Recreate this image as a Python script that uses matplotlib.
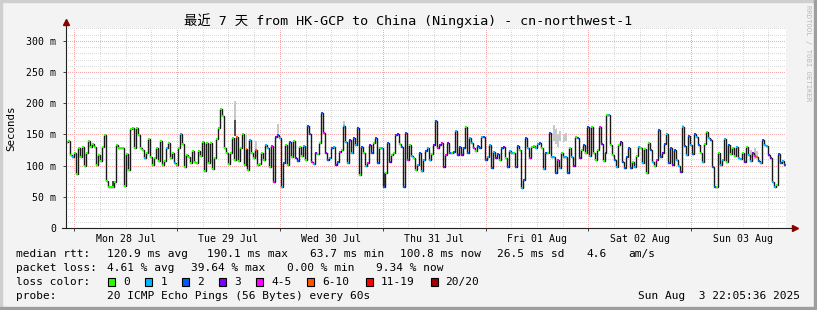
import numpy as np
import pandas as pd
import matplotlib
matplotlib.use('Agg')
import matplotlib.pyplot as plt
import matplotlib.dates as mdates
from matplotlib.patches import Rectangle
from matplotlib.ticker import MultipleLocator, FuncFormatter, NullFormatter

# median rtt in ms, one value per step from left to right
rtt_a = [138, 140, 117, 114, 120, 86, 128, 114, 130, 100,
         120, 140, 130, 134, 130, 101, 117, 108, 130, 149,
         75, 66, 66, 66, 74, 133, 129, 129, 129, 68,
         118, 93, 158, 161, 128, 161, 149, 128, 125, 112,
         120, 143, 114, 101, 113, 128, 107, 139, 101, 107,
         128, 137, 113, 120, 104, 101, 128, 150, 134, 98,
         117, 114]
rtt_b = [104, 123, 106, 104, 123, 116, 138, 91, 136, 104,
         136, 95, 113, 142, 161, 191, 180, 129, 120, 103,
         121, 144, 109, 146, 107, 129, 150, 101, 127, 93,
         141, 120, 113, 125, 101, 102, 120, 109, 133, 129,
         98, 132, 74, 146, 149, 145, 66, 104, 133, 101,
         138, 114, 139, 113, 107, 130, 116, 132, 109, 164]
rtt_c = [150, 106, 102, 121, 118, 136, 184, 152, 121, 109,
         113, 129, 130, 101, 106, 122, 125, 164, 138, 104,
         141, 120, 145, 133, 160, 85, 130, 120, 100, 104,
         133, 120, 136, 144, 104, 129, 128, 66, 88, 136,
         106, 117, 121, 149, 150, 134, 130, 65, 152, 109,
         133, 116, 112, 93, 101, 120, 91, 109, 123, 129]
rtt_d = [109, 118, 133, 171, 128, 133, 136, 98, 117, 136,
         121, 120, 122, 155, 117, 130, 117, 129, 162, 120,
         145, 136, 129, 123, 132, 129, 146, 146, 109, 114,
         133, 96, 122, 113, 118, 109, 128, 130, 112, 98,
         123, 121, 120, 98, 132, 125, 64, 77, 145, 128,
         112, 130, 132, 129, 134, 136, 128, 95, 120, 120]
rtt_e = [152, 114, 114, 89, 109, 96, 120, 114, 114, 89,
         129, 114, 100, 146, 145, 112, 125, 133, 120, 162,
         116, 162, 120, 109, 125, 162, 134, 107, 120, 181,
         181, 133, 117, 109, 98, 133, 138, 106, 96, 114,
         129, 96, 106, 98, 116, 130, 128, 104, 127, 89,
         137, 125, 106, 100, 109, 157, 114, 120, 134, 150]
rtt_f = [104, 129, 101, 125, 109, 100, 90, 162, 132, 117,
         148, 133, 118, 150, 146, 133, 120, 106, 134, 154,
         144, 141, 98, 66, 66, 120, 101, 109, 143, 106,
         133, 118, 128, 116, 130, 112, 110, 120, 106, 130,
         117, 107, 120, 116, 114, 107, 104, 141, 133, 132,
         117, 113, 74, 66, 69, 118, 104, 107, 101]

# lost pings (of 20) per step
loss_a = [0, 0, 0, 1, 0, 0, 0, 0, 0, 0,
          0, 0, 0, 0, 0, 0, 0, 0, 0, 0,
          0, 0, 0, 0, 0, 0, 0, 0, 0, 0,
          0, 0, 0, 0, 0, 0, 0, 0, 0, 1,
          0, 0, 0, 0, 0, 0, 0, 0, 0, 0,
          1, 0, 0, 0, 1, 0, 0, 1, 0, 0,
          0, 0]
loss_b = [0, 0, 0, 0, 0, 0, 0, 0, 0, 0,
          0, 0, 0, 0, 0, 0, 0, 0, 0, 0,
          0, 0, 0, 6, 0, 0, 0, 0, 6, 0,
          1, 0, 0, 6, 0, 0, 0, 0, 1, 1,
          0, 4, 4, 3, 2, 1, 1, 2, 0, 0,
          2, 0, 0, 3, 2, 0, 0, 1, 0, 2]
loss_c = [2, 4, 1, 3, 0, 0, 2, 4, 3, 2,
          1, 2, 1, 3, 2, 4, 0, 1, 1, 1,
          3, 1, 2, 1, 2, 0, 2, 0, 1, 4,
          3, 2, 0, 2, 2, 0, 1, 2, 0, 2,
          3, 0, 0, 2, 3, 0, 2, 2, 2, 4,
          0, 1, 0, 0, 1, 2, 1, 1, 2, 1]
loss_d = [1, 0, 3, 2, 4, 3, 4, 3, 4, 3,
          2, 0, 2, 1, 3, 2, 3, 2, 0, 2,
          1, 1, 4, 0, 2, 2, 1, 2, 2, 1,
          1, 2, 1, 3, 2, 0, 2, 3, 0, 2,
          1, 1, 0, 2, 2, 0, 1, 2, 2, 1,
          4, 0, 0, 1, 1, 2, 0, 1, 2, 0]
loss_e = [2, 1, 1, 2, 4, 1, 0, 1, 1, 2,
          0, 1, 3, 0, 2, 3, 0, 2, 0, 2,
          1, 0, 0, 0, 0, 4, 3, 0, 3, 0,
          1, 0, 0, 2, 1, 0, 3, 2, 2, 2,
          2, 2, 0, 1, 0, 1, 0, 1, 0, 0,
          0, 2, 1, 0, 4, 2, 2, 3, 2, 1]
loss_f = [2, 2, 3, 2, 1, 1, 3, 1, 2, 1,
          2, 1, 2, 2, 1, 2, 0, 1, 0, 0,
          1, 2, 2, 2, 0, 0, 1, 1, 1, 0,
          2, 0, 0, 0, 1, 1, 1, 0, 3, 0,
          1, 1, 3, 4, 6, 2, 1, 2, 1, 1,
          3, 3, 1, 1, 0, 2, 2, 1, 2]

# the few visible bits of "smoke" (rtt spread): step index, low, high, dark?
smoke_idx = [23, 84, 84, 90, 95, 106, 139, 159, 244, 245, 246, 247, 249, 250, 309, 343, 345, 346]
smoke_lo = [66, 147, 173, 128, 114, 149, 160, 66, 140, 135, 130, 140, 138, 140, 160, 112, 110, 115]
smoke_hi = [76, 173, 203, 152, 140, 167, 172, 88, 165, 158, 150, 155, 150, 152, 166, 125, 128, 124]
smoke_dark = [1, 1, 0, 0, 0, 0, 0, 1, 0, 0, 0, 0, 0, 0, 0, 0, 0, 0]

loss_labels = ['0', '1', '2', '3', '4-5', '6-10', '11-19', '20/20']
loss_limits = [0, 1, 2, 3, 5, 10, 19, 20]
loss_colors = ['#26ff00', '#00b8ff', '#0059ff', '#7e00ff', '#ff00ff', '#ff5500', '#ff0000', '#a10000']

end_time = pd.Timestamp('2025-08-03 22:05:36')

rtt = np.array(rtt_a + rtt_b + rtt_c + rtt_d + rtt_e + rtt_f, dtype=float)
loss = np.array(loss_a + loss_b + loss_c + loss_d + loss_e + loss_f)
n = len(rtt)
edges = pd.date_range(end_time - pd.Timedelta(days=7), end_time, periods=n + 1)
t = mdates.date2num(edges.to_pydatetime())

W, H = 817, 310
MONO = 'DejaVu Sans Mono'
fig = plt.figure(figsize=(W / 100, H / 100), dpi=100, facecolor='#f3f3f3')
ax = fig.add_axes([66 / W, 1 - 228 / H, 720 / W, 200 / H])
ax.set_facecolor('white')

# smoke
for i, lo, hi, dk in zip(smoke_idx, smoke_lo, smoke_hi, smoke_dark):
    ax.bar(t[i], hi - lo, bottom=lo, width=t[i + 1] - t[i], align='edge',
           color='#505050' if dk else '#c8c8c8', lw=0, zorder=2)

# median line + loss colours
ax.stairs(rtt, t, baseline=None, color='#1a1a1a', lw=1.0, zorder=3)
cols = [loss_colors[np.searchsorted(loss_limits, v)] for v in loss]
ax.hlines(rtt, t[:-1], t[1:], colors=cols, lw=1.45, zorder=4, capstyle='butt')

ax.set_xlim(t[0], t[-1])
ax.set_ylim(0, 320.8)

ax.yaxis.set_major_locator(MultipleLocator(50))
ax.yaxis.set_minor_locator(MultipleLocator(10))
ax.yaxis.set_major_formatter(FuncFormatter(lambda v, p: '0' if v == 0 else f'{v:.0f} m'))
ax.xaxis.set_major_locator(mdates.DayLocator())
ax.xaxis.set_minor_locator(mdates.HourLocator(byhour=[6, 12, 18]))
ax.xaxis.set_major_formatter(NullFormatter())


def day_label(v, p):
    d = mdates.num2date(v)
    return d.strftime('%a %d %b') if d.hour == 12 else ''


ax.xaxis.set_minor_formatter(FuncFormatter(day_label))
ax.set_axisbelow(True)
ax.grid(which='minor', color='#dadada', ls=(0, (1, 1.4)), lw=0.72, antialiased=False)
ax.grid(which='major', color='#f5a9a9', ls=(0, (1, 1.4)), lw=0.72, antialiased=False)
ax.tick_params(which='major', length=2.5, width=0.7, color='#404040',
               labelsize=7.1, labelfontfamily=MONO, labelcolor='#000000')
ax.tick_params(axis='y', which='major', pad=4.5)
ax.tick_params(axis='x', which='minor', length=0, pad=4, labelsize=7.1, labelfontfamily=MONO)
ax.tick_params(axis='y', which='minor', length=0)
for s in ax.spines.values():
    s.set_visible(False)

# axis lines with arrows
ax.plot([0, 0], [0, 1.025], transform=ax.transAxes, color='#202020', lw=0.8, clip_on=False, zorder=5)
ax.plot([-0.006, 1.009], [0, 0], transform=ax.transAxes, color='#202020', lw=0.8, clip_on=False, zorder=5)
ax.plot([0], [1.03], marker='^', ms=4, color='#8b0000', transform=ax.transAxes, clip_on=False, zorder=6)
ax.plot([1.012], [0], marker='>', ms=4, color='#8b0000', transform=ax.transAxes, clip_on=False, zorder=6)

fig.text(408 / W, 1 - 21 / H, '最近 7 天 from HK-GCP to China (Ningxia) - cn-northwest-1',
         ha='center', va='center', fontsize=9.6, family=[MONO, 'Noto Sans CJK SC'])
fig.text(11 / W, 1 - 128 / H, 'Seconds', rotation=90, ha='center', va='center',
         fontsize=7.8, family=MONO)
fig.text(808 / W, 1 - 5 / H, 'RRDTOOL / TOBI OETIKER', rotation=270, ha='center', va='top',
         fontsize=5.2, family=MONO, color='#b8b8b8')


def put(x, y, s, **kw):
    fig.text(x / W, 1 - y / H, s, va='center', fontsize=8.0, family=MONO, **kw)


put(16, 254, 'median rtt:')
put(107, 254, '120.9 ms avg')
put(207, 254, '190.1 ms max')
put(310, 254, '63.7 ms min')
put(400, 254, '100.8 ms now')
put(497, 254, '26.5 ms sd')
put(586, 254, '4.6')
put(628, 254, 'am/s')

put(16, 268, 'packet loss:')
put(107, 268, '4.61 % avg')
put(191, 268, '39.64 % max')
put(287, 268, '0.00 % min')
put(376, 268, '9.34 % now')

put(16, 282, 'loss color:')
x = 108.3
for lab, c in zip(loss_labels, loss_colors):
    fig.add_artist(Rectangle((x / W, 1 - 286 / H), 7 / W, 8 / H, facecolor=c,
                             edgecolor='black', lw=0.8, transform=fig.transFigure))
    put(x + 15, 282, lab)
    x += 30 + 7.02 * len(lab)

put(16, 296, 'probe:')
put(107, 296, '20 ICMP Echo Pings (56 Bytes) every 60s')
put(800, 296, 'Sun Aug  3 22:05:36 2025', ha='right')

# 3d-ish frame
fig.add_artist(Rectangle((0, 1 - 2 / H), 1, 2 / H, color='#cfcfcf', transform=fig.transFigure))
fig.add_artist(Rectangle((0, 0), 2 / W, 1, color='#cfcfcf', transform=fig.transFigure))
fig.add_artist(Rectangle((0, 0), 1, 3 / H, color='#9e9e9e', transform=fig.transFigure))
fig.add_artist(Rectangle((1 - 3 / W, 0), 3 / W, 1, color='#9e9e9e', transform=fig.transFigure))

fig.savefig('out.png', dpi=100, facecolor=fig.get_facecolor())
